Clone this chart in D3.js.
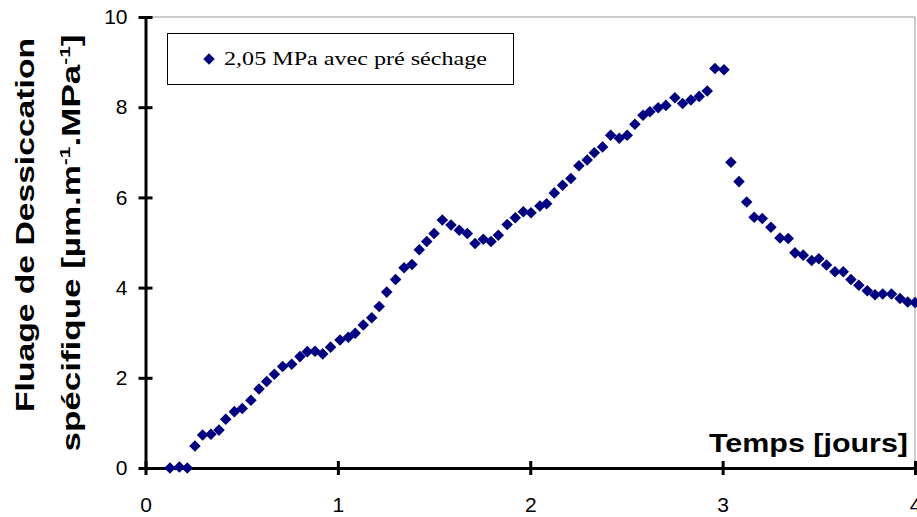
<!DOCTYPE html>
<html><head><meta charset="utf-8">
<script src="https://cdn.jsdelivr.net/npm/d3@7"></script>
<style>body{margin:0;background:#fff}svg{display:block}</style>
</head><body>
<svg id="c" width="917" height="517"></svg>
<script>
const seriesName = "2,05 MPa avec pré séchage";
const xTicks = [0, 1, 2, 3, 4];
const yTicks = [0, 2, 4, 6, 8, 10];
const tJours = [0.127,0.176,0.217,0.257,0.297,0.34,0.382,0.417,0.462,0.503,0.548,0.59,0.63,0.67,0.713,0.76,0.803,0.841,0.881,0.921,0.962,1.011,1.054,1.09,1.132,1.176,1.215,1.254,1.30,1.344,1.385,1.423,1.462,1.50,1.543,1.588,1.631,1.673,1.713,1.756,1.796,1.834,1.88,1.922,1.964,2.004,2.05,2.085,2.125,2.168,2.211,2.253,2.296,2.333,2.376,2.418,2.463,2.504,2.544,2.586,2.622,2.665,2.705,2.752,2.792,2.835,2.878,2.92,2.96,3.007,3.043,3.085,3.125,3.164,3.206,3.251,3.298,3.341,3.376,3.419,3.463,3.50,3.54,3.584,3.627,3.667,3.708,3.752,3.792,3.832,3.878,3.922,3.962,4.0];
const fluage = [0.0,0.02,0.0,0.49,0.73,0.75,0.84,1.08,1.25,1.32,1.50,1.75,1.92,2.08,2.25,2.30,2.47,2.58,2.59,2.53,2.68,2.84,2.90,2.99,3.17,3.33,3.58,3.90,4.18,4.44,4.51,4.84,5.02,5.20,5.50,5.39,5.27,5.20,4.98,5.07,5.02,5.16,5.40,5.55,5.68,5.66,5.81,5.86,6.10,6.27,6.42,6.70,6.83,6.99,7.12,7.38,7.31,7.38,7.62,7.82,7.90,7.99,8.04,8.21,8.08,8.16,8.24,8.36,8.86,8.83,6.78,6.35,5.90,5.56,5.53,5.34,5.10,5.09,4.77,4.72,4.60,4.64,4.50,4.35,4.35,4.18,4.05,3.93,3.84,3.86,3.86,3.76,3.68,3.67];

const svg = d3.select("#c");
const x = d3.scaleLinear().domain([0, 4]).range([145.5, 915]);
const y = d3.scaleLinear().domain([0, 10]).range([468, 17]);
const col = "#000080";
const sans = "Arial, 'Liberation Sans', sans-serif";

// plot frame (thin grey top/right)
svg.append("line").attr("x1", x(0)).attr("x2", x(4)).attr("y1", y(10)).attr("y2", y(10)).attr("stroke", "#999").attr("stroke-width", 1);
svg.append("line").attr("x1", x(4)).attr("x2", x(4)).attr("y1", y(10)).attr("y2", y(0)).attr("stroke", "#999").attr("stroke-width", 1);

// axes
const xAxis = d3.axisBottom(x).tickValues(xTicks).tickFormat(d3.format("d")).tickSizeInner(7).tickSizeOuter(0).tickPadding(22);
const gx = svg.append("g").attr("transform", `translate(0,${y(0)})`).call(xAxis);
gx.select(".domain").attr("stroke-width", 3).attr("stroke", "#000");
gx.selectAll(".tick line").attr("y1", -7).attr("y2", 7).attr("stroke-width", 3);
gx.selectAll("text").attr("font-family", sans).attr("font-size", 21).attr("fill", "#000");

const yAxis = d3.axisLeft(y).tickValues(yTicks).tickFormat(d3.format("d")).tickSizeInner(7).tickSizeOuter(0).tickPadding(11);
const gy = svg.append("g").attr("transform", `translate(${x(0)},0)`).call(yAxis);
gy.select(".domain").attr("stroke-width", 3).attr("stroke", "#000");
gy.selectAll(".tick line").attr("x1", -7).attr("x2", 7).attr("stroke-width", 3);
gy.selectAll("text").attr("font-family", sans).attr("font-size", 21).attr("fill", "#000");

// points
const pts = tJours.map((t, i) => ({t, v: fluage[i]}));
const diamond = d3.symbol().type(d3.symbolDiamond2).size(85);
svg.append("g").selectAll("path").data(pts).join("path")
  .attr("d", diamond)
  .attr("transform", d => `translate(${x(d.t)},${y(d.v)})`)
  .attr("fill", col);

// x axis title
svg.append("text").attr("x", 709).attr("y", 452)
  .attr("font-family", sans).attr("font-weight", "bold").attr("font-size", 26)
  .attr("textLength", 199).attr("lengthAdjust", "spacingAndGlyphs")
  .text("Temps [jours]");

// y axis title line 1
svg.append("text").attr("transform", "translate(0,225) rotate(-90)")
  .attr("x", 0).attr("y", 34).attr("text-anchor", "middle")
  .attr("font-family", sans).attr("font-weight", "bold").attr("font-size", 25)
  .attr("textLength", 374).attr("lengthAdjust", "spacingAndGlyphs")
  .text("Fluage de Dessiccation");
// y axis title line 2
const yt2 = svg.append("text").attr("transform", "translate(0,243) rotate(-90)")
  .attr("x", 0).attr("y", 80).attr("text-anchor", "middle")
  .attr("font-family", sans).attr("font-weight", "bold").attr("font-size", 25)
  .attr("textLength", 417).attr("lengthAdjust", "spacingAndGlyphs");
yt2.append("tspan").text("spécifique [µm.m");
yt2.append("tspan").attr("dy", -10).attr("font-size", 15).text("-1");
yt2.append("tspan").attr("dy", 10).text(".MPa");
yt2.append("tspan").attr("dy", -10).attr("font-size", 15).text("-1");
yt2.append("tspan").attr("dy", 10).text("]");

// legend
const lg = svg.append("g");
lg.append("rect").attr("x", 167.5).attr("y", 33.5).attr("width", 346).attr("height", 51)
  .attr("fill", "#fff").attr("stroke", "#000").attr("stroke-width", 1);
lg.append("path").attr("d", diamond).attr("transform", "translate(209,59)").attr("fill", col);
lg.append("text").attr("x", 224).attr("y", 65).attr("font-family", "'Times New Roman', 'Liberation Serif', serif")
  .attr("font-size", 19).attr("fill", "#000")
  .attr("textLength", 263).attr("lengthAdjust", "spacingAndGlyphs")
  .text(seriesName);
</script>
</body></html>
